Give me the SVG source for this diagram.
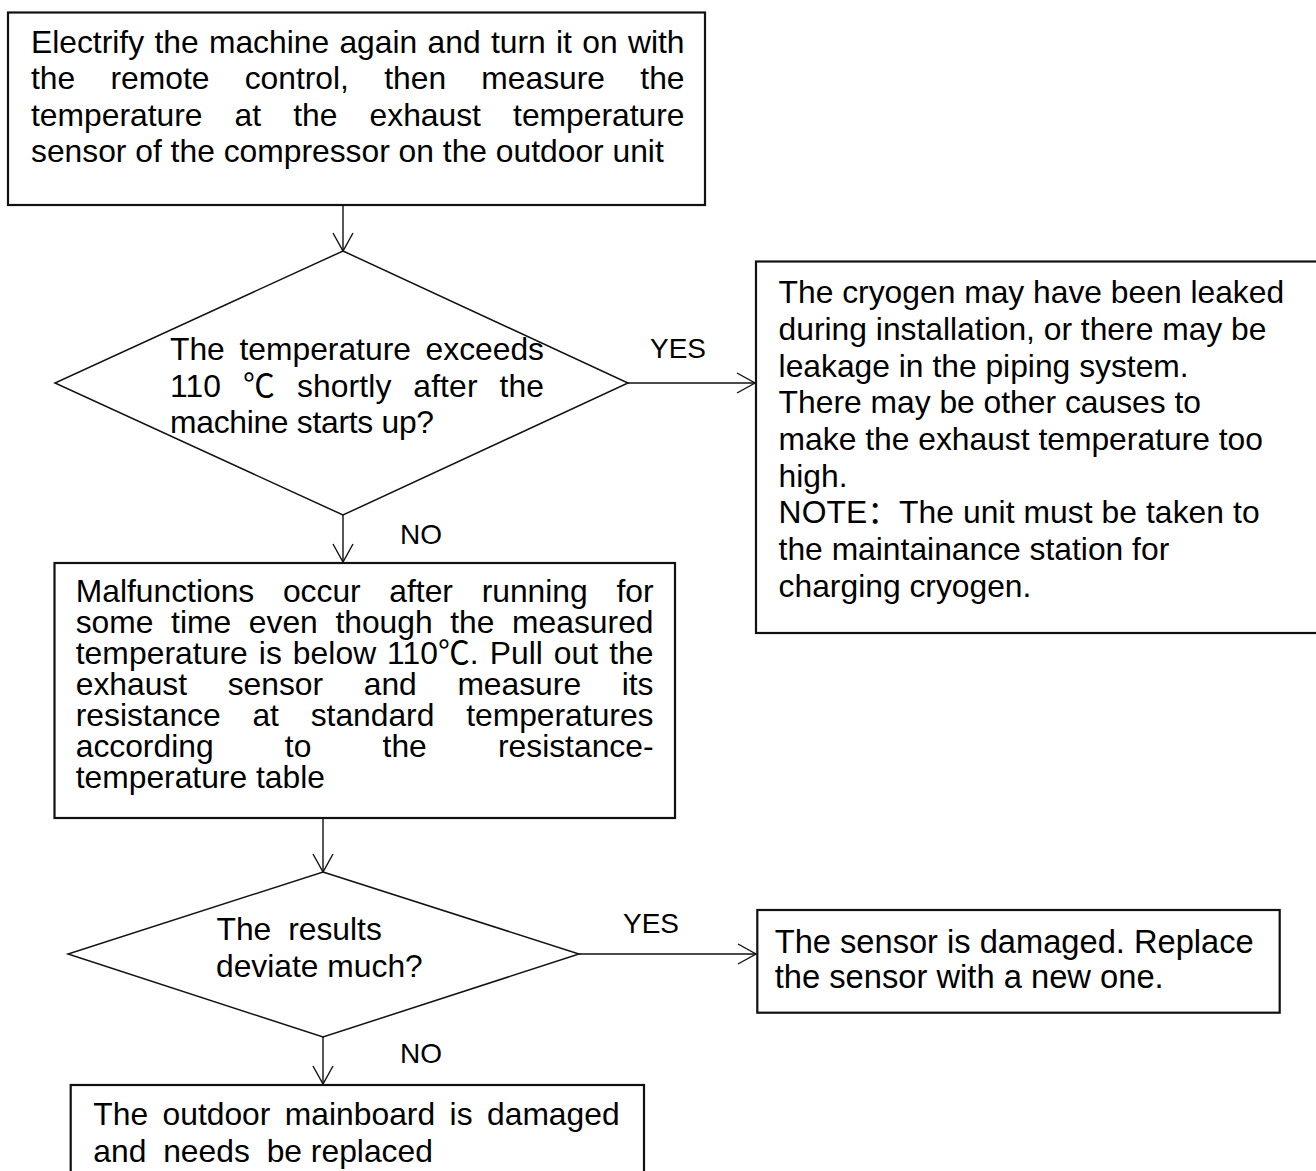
<svg xmlns="http://www.w3.org/2000/svg" width="1316" height="1171" viewBox="0 0 1316 1171">
  <style>
    text { font-family: "Liberation Sans", Arial, "Noto Sans CJK SC", sans-serif; fill: #000; }
    .body { font-size: 31.8px; }
    .lbl { font-size: 28px; }
    .box { fill: #fff; stroke: #111; stroke-width: 2.2; }
    .dia { fill: none; stroke: #111; stroke-width: 1.5; }
    .conn { fill: none; stroke: #111; stroke-width: 1.4; }
  </style>
  <defs>
    <marker id="arr" markerUnits="userSpaceOnUse" markerWidth="22" markerHeight="24" refX="18" refY="11" orient="auto" overflow="visible">
      <path d="M0,1 L18,11 L0,21" fill="none" stroke="#111" stroke-width="1.4"/>
    </marker>
  </defs>
  <rect width="1316" height="1171" fill="#fff"/>

  <g id="connectors">
    <line class="conn" x1="343" y1="205" x2="343" y2="251" marker-end="url(#arr)"/>
    <line class="conn" x1="628" y1="383" x2="755" y2="383" marker-end="url(#arr)"/>
    <line class="conn" x1="343" y1="515" x2="343" y2="562" marker-end="url(#arr)"/>
    <line class="conn" x1="323" y1="818" x2="323" y2="872" marker-end="url(#arr)"/>
    <line class="conn" x1="579" y1="954" x2="756" y2="954" marker-end="url(#arr)"/>
    <line class="conn" x1="323" y1="1037" x2="323" y2="1084" marker-end="url(#arr)"/>
    <text class="lbl" x="650" y="358.3">YES</text>
    <text class="lbl" x="400" y="544">NO</text>
    <text class="lbl" x="623" y="932.7">YES</text>
    <text class="lbl" x="400" y="1062.7">NO</text>
  </g>

  <g id="start">
    <rect class="box" x="8" y="12.5" width="697" height="192.5"/>
    <text class="body" x="31" y="52.5" textLength="653.5" lengthAdjust="spacing" style="word-spacing:1.5px">Electrify the machine again and turn it on with</text>
    <text class="body" x="31" y="89" textLength="653.5" lengthAdjust="spacing" style="word-spacing:26.4px">the remote control, then measure the</text>
    <text class="body" x="31" y="125.5" textLength="653.5" lengthAdjust="spacing" style="word-spacing:23.3px">temperature at the exhaust temperature</text>
    <text class="body" x="31" y="162">sensor of the compressor on the outdoor unit</text>
  </g>

  <g id="decision1">
    <polygon class="dia" points="343,251 55,383 628,383 343,515" transform="translate(0,0)" style="display:none"/>
    <polygon class="dia" points="343,251 628,383 343,515 55,383"/>
    <text class="body" x="170" y="360" textLength="374" lengthAdjust="spacing" style="word-spacing:5.85px">The temperature exceeds</text>
    <text class="body" x="170" y="396.7" textLength="374" lengthAdjust="spacing" style="word-spacing:13px">110 ℃ shortly after the</text>
    <text class="body" x="170" y="433.3" textLength="264" lengthAdjust="spacing">machine starts up?</text>
  </g>

  <g id="leak">
    <rect class="box" x="756" y="261.5" width="600" height="371.5"/>
    <text class="body" x="778.6" y="303.3">The cryogen may have been leaked</text>
    <text class="body" x="778.6" y="340">during installation, or there may be</text>
    <text class="body" x="778.6" y="376.7">leakage in the piping system.</text>
    <text class="body" x="778.6" y="413.3">There may be other causes to</text>
    <text class="body" x="778.6" y="450">make the exhaust temperature too</text>
    <text class="body" x="778.6" y="486.7">high.</text>
    <text class="body" x="778.6" y="523.3" textLength="481" lengthAdjust="spacing">NOTE：The unit must be taken to</text>
    <text class="body" x="778.6" y="560">the maintainance station for</text>
    <text class="body" x="778.6" y="596.7">charging cryogen.</text>
  </g>

  <g id="measure">
    <rect class="box" x="54.5" y="563" width="620.5" height="255"/>
    <text class="body" x="75.7" y="601.5" textLength="577.8" lengthAdjust="spacing" style="word-spacing:19.85px">Malfunctions occur after running for</text>
    <text class="body" x="75.7" y="632.5" textLength="577.8" lengthAdjust="spacing" style="word-spacing:8.8px">some time even though the measured</text>
    <text class="body" x="75.7" y="663.5" textLength="577.8" lengthAdjust="spacing" style="word-spacing:2px">temperature is below 110℃. Pull out the</text>
    <text class="body" x="75.7" y="694.5" textLength="577.8" lengthAdjust="spacing" style="word-spacing:31.8px">exhaust sensor and measure its</text>
    <text class="body" x="75.7" y="725.5" textLength="577.8" lengthAdjust="spacing" style="word-spacing:22.9px">resistance at standard temperatures</text>
    <text class="body" x="75.7" y="756.5" textLength="577.8" lengthAdjust="spacing" style="word-spacing:62.4px">according to the resistance-</text>
    <text class="body" x="75.7" y="787.5">temperature table</text>
  </g>

  <g id="decision2">
    <polygon class="dia" points="323,872 579,954 323,1037 68,954"/>
    <text class="body" x="216.5" y="940">The <tspan dx="8">results</tspan></text>
    <text class="body" x="216" y="976.7">deviate much?</text>
  </g>

  <g id="replace-sensor">
    <rect class="box" x="757.3" y="910" width="522.4" height="102.7"/>
    <text class="body" x="774.7" y="953.3" textLength="479" lengthAdjust="spacingAndGlyphs" style="font-size:32.6px">The sensor is damaged. Replace</text>
    <text class="body" x="774.7" y="988.3" textLength="389" lengthAdjust="spacingAndGlyphs" style="font-size:32.6px">the sensor with a new one.</text>
  </g>

  <g id="replace-board">
    <rect class="box" x="70.7" y="1085" width="573.3" height="120"/>
    <text class="body" x="93.3" y="1125" textLength="526.3" lengthAdjust="spacing" style="word-spacing:5.65px">The outdoor mainboard is damaged</text>
    <text class="body" x="93.3" y="1161.7">and <tspan dx="8">needs </tspan><tspan dx="8">be</tspan> replaced</text>
  </g>
</svg>
